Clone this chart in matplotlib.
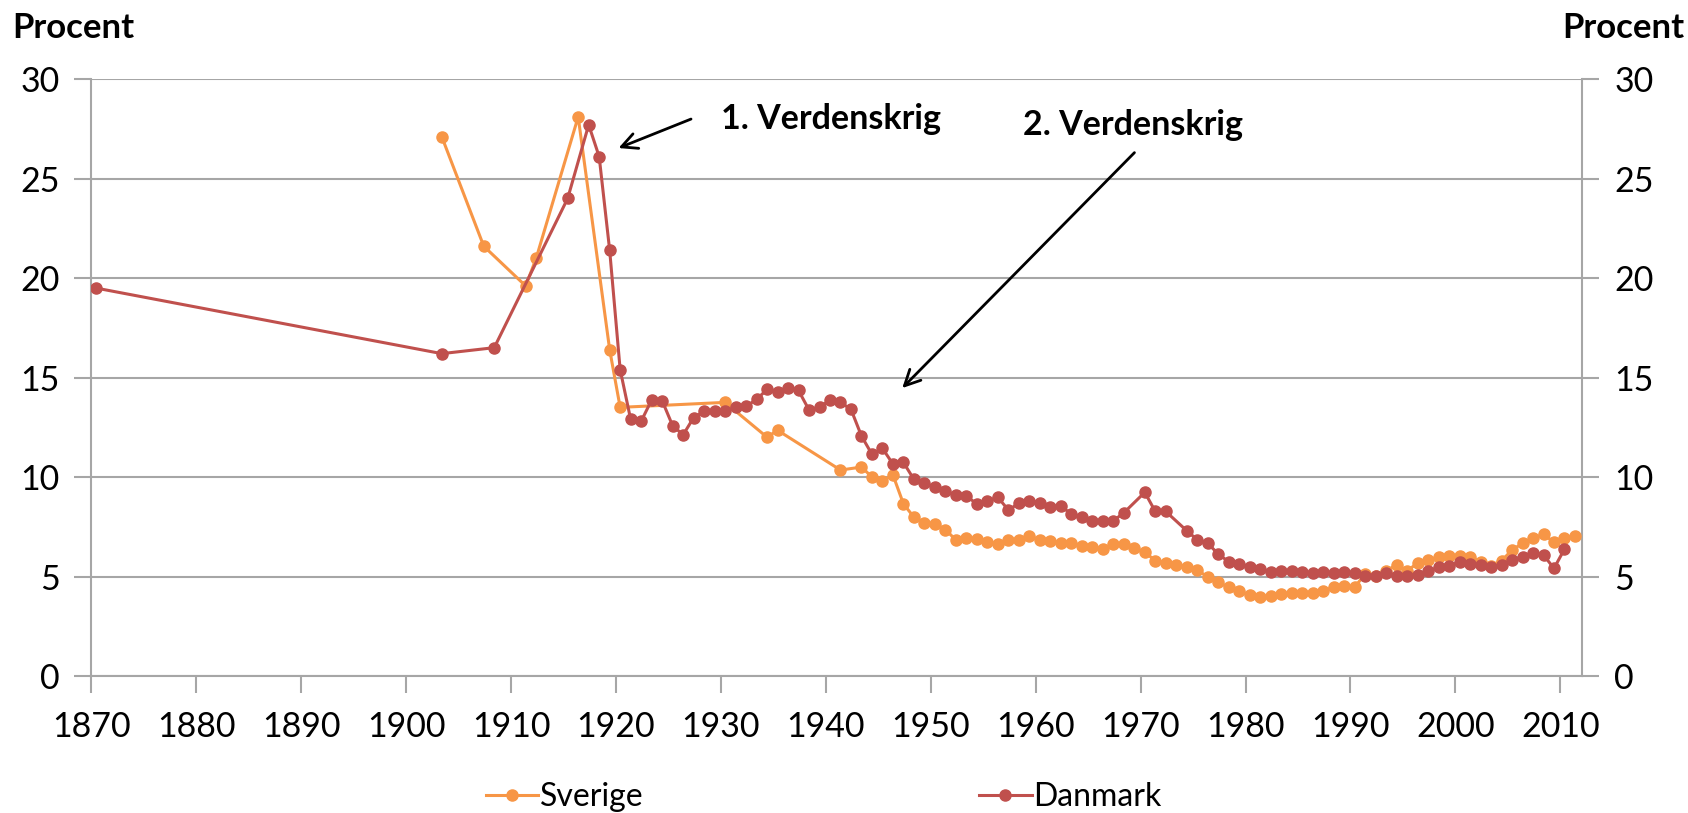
import matplotlib
matplotlib.use("Agg")
import matplotlib.pyplot as plt
import numpy as np

plt.rcParams["font.family"] = ["Lato", "DejaVu Sans"]

# Sverige
se_years = [1903, 1907, 1911, 1912, 1916, 1919, 1920, 1930, 1934, 1935, 1941,
            1943, 1944, 1945, 1946, 1947, 1948, 1949, 1950, 1951, 1952, 1953,
            1954, 1955, 1956, 1957, 1958, 1959, 1960, 1961, 1962, 1963, 1964,
            1965, 1966, 1967, 1968, 1969, 1970, 1971, 1972, 1973, 1974, 1975,
            1976, 1977, 1978, 1979, 1980, 1981, 1982, 1983, 1984, 1985, 1986,
            1987, 1988, 1989, 1990, 1991, 1992, 1993, 1994, 1995, 1996, 1997,
            1998, 1999, 2000, 2001, 2002, 2003, 2004, 2005, 2006, 2007, 2008,
            2009, 2010, 2011]
se_vals = [27.1, 21.6, 19.6, 21.0, 28.1, 16.4, 13.5, 13.75, 12.0, 12.35, 10.35,
           10.5, 10.0, 9.8, 10.1, 8.65, 7.98, 7.7, 7.64, 7.36, 6.83, 6.92,
           6.88, 6.75, 6.63, 6.83, 6.83, 7.05, 6.83, 6.78, 6.67, 6.67, 6.53,
           6.47, 6.38, 6.63, 6.63, 6.42, 6.22, 5.8, 5.69, 5.59, 5.5, 5.31,
           4.99, 4.71, 4.46, 4.27, 4.07, 3.95, 4.04, 4.12, 4.17, 4.17, 4.17,
           4.29, 4.46, 4.52, 4.46, 5.13, 5.05, 5.29, 5.58, 5.29, 5.67, 5.83,
           5.96, 6.05, 6.05, 6.0, 5.74, 5.55, 5.79, 6.33, 6.67, 6.92, 7.12,
           6.72, 6.92, 7.04]

# Danmark
dk_years = [1870, 1903, 1908, 1915, 1917, 1918, 1919, 1920, 1921, 1922, 1923,
            1924, 1925, 1926, 1927, 1928, 1929, 1930, 1931, 1932, 1933, 1934,
            1935, 1936, 1937, 1938, 1939, 1940, 1941, 1942, 1943, 1944, 1945,
            1946, 1947, 1948, 1949, 1950, 1951, 1952, 1953, 1954, 1955, 1956,
            1957, 1958, 1959, 1960, 1961, 1962, 1963, 1964, 1965, 1966, 1967,
            1968, 1970, 1971, 1972, 1974, 1975, 1976, 1977, 1978, 1979, 1980,
            1981, 1982, 1983, 1984, 1985, 1986, 1987, 1988, 1989, 1990, 1991,
            1992, 1993, 1994, 1995, 1996, 1997, 1998, 1999, 2000, 2001, 2002,
            2003, 2004, 2005, 2006, 2007, 2008, 2009, 2010]
dk_vals = [19.5, 16.2, 16.5, 24.0, 27.7, 26.1, 21.4, 15.4, 12.9, 12.8, 13.87,
           13.84, 12.58, 12.12, 12.98, 13.3, 13.3, 13.3, 13.5, 13.55, 13.9, 14.4,
           14.25, 14.45, 14.35, 13.37, 13.5, 13.87, 13.75, 13.4, 12.06, 11.14, 11.44,
           10.65, 10.73, 9.88, 9.68, 9.5, 9.28, 9.1, 9.05, 8.64, 8.8, 8.98,
           8.34, 8.68, 8.81, 8.71, 8.51, 8.54, 8.14, 7.97, 7.8, 7.8, 7.8,
           8.2, 9.23, 8.27, 8.27, 7.3, 6.85, 6.67, 6.13, 5.74, 5.61, 5.49,
           5.38, 5.24, 5.29, 5.29, 5.24, 5.16, 5.21, 5.16, 5.21, 5.16, 5.03,
           5.03, 5.16, 5.03, 5.03, 5.1, 5.27, 5.46, 5.53, 5.74, 5.63, 5.58,
           5.5, 5.58, 5.83, 6.0, 6.16, 6.08, 5.41, 6.38]

# the points sit a little right of the year ticks in the original
X_SHIFT = 0.4

ORANGE = "#F79646"
RED = "#C0504D"
GRID = "#A6A6A6"

fig = plt.figure(figsize=(16.88, 8.13), dpi=100)
ax = fig.add_axes([0.0541, 0.1685, 0.8833, 0.7343])

ax.plot(np.array(se_years) + X_SHIFT, se_vals, color=ORANGE, lw=2.2,
        marker="o", ms=8, label="Sverige", zorder=3)
ax.plot(np.array(dk_years) + X_SHIFT, dk_vals, color=RED, lw=2.2,
        marker="o", ms=8, label="Danmark", zorder=4)

ax.set_xlim(1870, 2012.1)
ax.set_ylim(0, 30)
ax.set_xticks(range(1870, 2011, 10))
ax.set_yticks(range(0, 31, 5))
ax.yaxis.grid(True, color=GRID, lw=1.5)
ax.set_axisbelow(True)

for side in ["left", "right", "bottom"]:
    ax.spines[side].set_color(GRID)
    ax.spines[side].set_linewidth(1.5)
ax.spines["top"].set_visible(False)

ax.tick_params(axis="both", length=12, width=1.5, color=GRID, labelsize=24.5,
               direction="out")
ax.tick_params(axis="y", right=True, labelright=True, pad=11)
ax.tick_params(axis="x", pad=13)

fig.text(0.007, 0.966, "Procent", fontsize=25, fontweight="bold", va="center")
fig.text(0.998, 0.966, "Procent", fontsize=25, fontweight="bold", va="center",
         ha="right")

# annotations
ax.annotate("", xy=(1920.0, 26.48), xytext=(1927.4, 28.04),
            arrowprops=dict(arrowstyle="->", color="black", lw=2,
                            mutation_scale=28))
ax.text(1930.0, 28.0, "1. Verdenskrig", fontsize=24.5, fontweight="bold",
        va="center", ha="left")
ax.annotate("", xy=(1947.1, 14.37), xytext=(1969.6, 26.4),
            arrowprops=dict(arrowstyle="->", color="black", lw=2,
                            mutation_scale=28))
ax.text(1958.8, 27.7, "2. Verdenskrig", fontsize=24.5, fontweight="bold",
        va="center", ha="left")

fig.legend(loc="center", bbox_to_anchor=(0.488, 0.02), ncol=2, frameon=False,
           fontsize=23, handlelength=1.65, handletextpad=0.05,
           columnspacing=10.5, borderaxespad=0)

fig.savefig("out.png", dpi=100)
